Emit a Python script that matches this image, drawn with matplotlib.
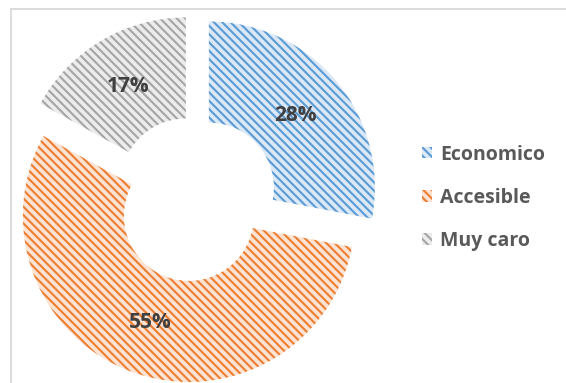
import matplotlib
matplotlib.use('Agg')
import matplotlib.pyplot as plt
from matplotlib.lines import Line2D

# Chart data
labels = ['Economico', 'Accesible', 'Muy caro']
values = [28, 55, 17]
hatch_colors = ['#5b9bd5', '#ed7d31', '#a5a5a5']
fill_colors = ['#dbe8f6', '#fce3d2', '#ececec']

W, H = 566, 383
plt.rcParams['hatch.linewidth'] = 1.5
plt.rcParams['font.family'] = ['Open Sans', 'DejaVu Sans']

fig = plt.figure(figsize=(W / 100, H / 100), dpi=100)
ax = fig.add_axes([0, 0, 1, 1])

# pixel-like data units, y pointing up
cx, cy = 195, H - 199
wedges, texts, autotexts = ax.pie(
    values, radius=166, center=(cx, cy), startangle=90, counterclock=False,
    explode=[18, 18, 18], colors=fill_colors, autopct='%1.0f%%', pctdistance=0.68,
    wedgeprops=dict(width=101, linewidth=0),
    textprops=dict(fontsize=15, fontweight='bold', color='#404040'))

for w, hc in zip(wedges, hatch_colors):
    w.set_hatch('\\\\\\\\')
    w.set_edgecolor(hc)
    w.set_linewidth(0)

ax.set_xlim(0, W)
ax.set_ylim(0, H)
ax.set_aspect('auto')
ax.axis('off')

leg = ax.legend(wedges, labels, loc='upper left', bbox_to_anchor=(404 / W, 1 - 127 / H),
                frameon=False, handlelength=0.55, handleheight=0.55, handletextpad=0.4,
                labelspacing=1.2, prop=dict(size=14, weight='bold'))
for t in leg.get_texts():
    t.set_color('#595959')

# chart border (cropped on right and bottom)
fig.add_artist(Line2D([11 / W, 1], [1 - 9 / H, 1 - 9 / H], color='#d9d9d9', lw=1.3))
fig.add_artist(Line2D([11 / W, 11 / W], [0, 1 - 9 / H], color='#d9d9d9', lw=1.3))

fig.savefig('out.png', dpi=100)
